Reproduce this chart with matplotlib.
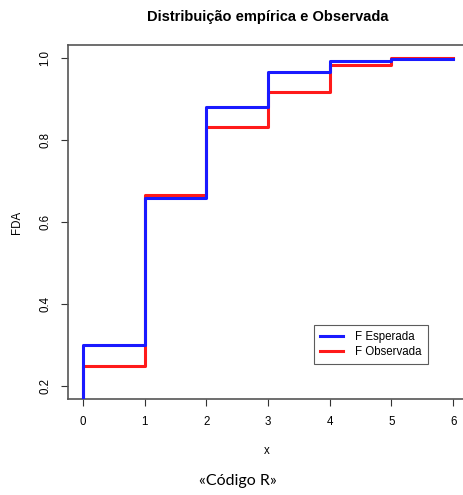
import matplotlib
matplotlib.use("Agg")
import matplotlib.pyplot as plt

# valores da FDA em cada salto (x = 0..6)
x_vals = [0, 1, 2, 3, 4, 5, 6]
f_esperada = [0.30, 0.66, 0.88, 0.966, 0.992, 0.998]
f_observada = [0.25, 0.667, 0.833, 0.917, 0.983, 1.0]

plt.rcParams['font.family'] = ['Liberation Sans', 'DejaVu Sans']

W, H = 463, 495
fig = plt.figure(figsize=(W / 100, H / 100), dpi=100)
ax = fig.add_axes([68 / W, 1 - 399.3 / H, 400 / W, (399.3 - 45) / H])


def step_xy(vals):
    # degrau comeca em 0 antes do primeiro salto
    xs = [x_vals[0]] + x_vals
    ys = [0] + vals + [vals[-1]]
    return xs, ys


xo, yo = step_xy(f_observada)
xe, ye = step_xy(f_esperada)
ax.step(xo, yo, where='post', color='#ff1a1a', lw=2.2, label='F Observada', zorder=2)
ax.step(xe, ye, where='post', color='#1a1aff', lw=2.2, label='F Esperada', zorder=3)

ax.set_xlim(-0.24, 6.24)
ax.set_ylim(0.168, 1.032)
ax.set_xticks(x_vals)
ax.set_yticks([0.2, 0.4, 0.6, 0.8, 1.0])
ax.set_yticklabels(['0.2', '0.4', '0.6', '0.8', '1.0'], rotation=90, va='center')
ax.tick_params(direction='out', length=5, width=0.8, labelsize=8.3, pad=7, colors='#333333',
               labelcolor='black')
for s in ax.spines.values():
    s.set_color('#555555')
    s.set_linewidth(1.2)

# titulo e rotulos dos eixos posicionados na figura
fig.text(268 / W, 1 - 17 / H, 'Distribuição empírica e Observada', ha='center', va='center',
         fontsize=10.5, fontweight='bold')
fig.text(267 / W, 1 - 451 / H, 'x', ha='center', va='center', fontsize=8.3)
fig.text(17 / W, 1 - 222 / H, 'FDA', ha='center', va='center', rotation=90, fontsize=8.3)

handles, labels = ax.get_legend_handles_labels()
leg = ax.legend(handles[::-1], labels[::-1], loc='lower left', bbox_to_anchor=(0.615, 0.0996),
                fontsize=8.3, frameon=True, fancybox=False, borderaxespad=0,
                handlelength=2.0, handletextpad=1.0, labelspacing=0.2, borderpad=0.55)
leg.get_frame().set_edgecolor('#333333')
leg.get_frame().set_linewidth(0.8)

fig.text(238 / W, 1 - 481 / H, '«Código R»', ha='center', va='center',
         fontsize=11.5, family=['Lato', 'DejaVu Sans'])

fig.savefig('out.png', dpi=100)
